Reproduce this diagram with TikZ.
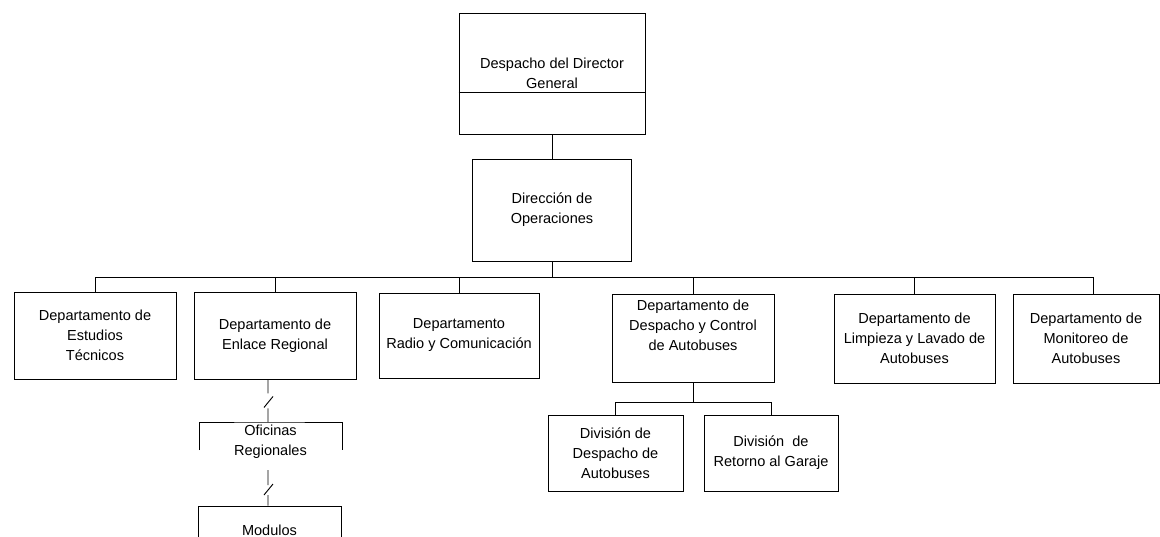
\documentclass[tikz,border=0pt]{standalone}
\usepackage{fontspec}
\setmainfont{Liberation Sans}
\begin{document}
\begin{tikzpicture}[x=0.75pt,y=-0.75pt,line width=0.7pt,
		texto/.style={align=center,font=\fontsize{10.9}{15}\selectfont,inner sep=1pt},
		caja/.style={texto,draw}]
		\useasboundingbox (0,0) rectangle (1160,536);
		\clip (0,0) rectangle (1160,536);
		\node[caja,minimum width=139.5pt,minimum height=90.75pt] (A) at (552,73.5) {Despacho del Director\\
			General};
		\draw (A.west |- 0,92) -- (A.east |- 0,92);
		\node[caja,minimum width=119.25pt,minimum height=76.5pt] (B) at (552,210) {Dirección de\\
			Operaciones};
		\node[caja,minimum width=121.5pt,minimum height=65.25pt] (C1) at (95,335.5) {Departamento de\\
			Estudios\\Técnicos};
		\node[caja,minimum width=121.5pt,minimum height=65.25pt] (C2) at (275,335.5) {Departamento de\\
			Enlace Regional};
		\node[caja,minimum width=120pt,minimum height=63.75pt] (C3) at (459,335.5) {Departamento\\
			Radio y Comunicación};
		\node[caja,minimum width=121.5pt,minimum height=66pt] (C4) at (693,338) {Departamento de\\
			Despacho y Control\\de Autobuses\\\strut};
		\node[caja,minimum width=120.75pt,minimum height=66.75pt] (C5) at (914.5,338.5) {Departamento de\\
			Limpieza y Lavado de\\Autobuses};
		\node[caja,minimum width=109.5pt,minimum height=66.75pt] (C6) at (1086,338.5) {Departamento de\\
			Monitoreo de\\Autobuses};
		\node[caja,minimum width=101.25pt,minimum height=57pt] (D1) at (615.5,453) {División de\\
			Despacho de\\Autobuses};
		\node[caja,minimum width=100.5pt,minimum height=57pt] (D2) at (771,453) {División~ de\\
			Retorno al Garaje};
		\node[texto] (O) at (270.5,442) {Oficinas\\Regionales};
		\node[caja,minimum width=107.25pt,minimum height=36pt] (M) at (269.5,530) {Modulos};
		% lineas
		\coordinate (bus) at (552,277);
		\coordinate (sub) at (693,402);
		\coordinate (ofi) at (268,422);
		\coordinate (ofib) at (268,470);
		\draw (A) -- (B);
		\draw (B) -- (bus);
		\draw (bus) -| (C1);
		\draw (bus) -| (C2);
		\draw (bus) -| (C3);
		\draw (bus) -| (C4);
		\draw (bus) -| (C5);
		\draw (bus) -| ([xshift=5.25pt]C6.north);
		\draw (C4) -- (sub);
		\draw (sub) -| (D1);
		\draw (sub) -| (D2);
		\draw (199,450) |- (ofi) -| (342,450);
		\draw (C2.south -| ofi) -- ++(0,14) ++(-4,14) -- ++(9,-11) ++(-5,12) -- (ofi);
		\draw (ofib) -- ++(0,15) ++(-4,10) -- ++(9,-11) ++(-5,11) -- (M.north -| ofib);
	\end{tikzpicture}
\end{document}
